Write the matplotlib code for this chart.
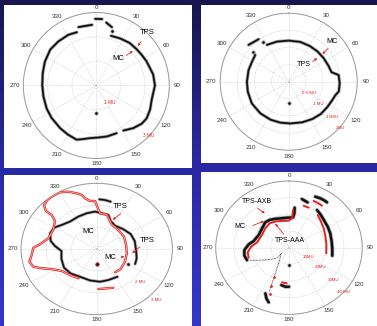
import numpy as np
import matplotlib
matplotlib.use("Agg")
import matplotlib.pyplot as plt
from matplotlib.patches import Rectangle, FancyArrowPatch

nan = float("nan")
W, H = 377, 326

theta_ticks = list(range(0, 360, 30))
theta_labels = [str(a) for a in theta_ticks]

# ---------------- Panel 1 (rmax 3 MU) ----------------
p1_rings = [1, 2, 3]
p1_mc_theta = [-1, 5, nan, 9, 15, nan, 16.5, 27, 38, 48, 56, 64, 72, 79, 90, 104, 114, 123, 130, 139, 149, nan,
               157, 168, 178, 187, 194, 200, 210, 220, 234, 245, 258, 270, 283, 295, 308, 319, 331, 340, nan, 343, 356]
p1_mc_r = [2.74, 2.74, nan, 2.62, 2.48, nan, 2.13, 2.17, 2.22, 2.23, 2.25, 2.29, 2.32, 2.38, 2.41, 2.35, 2.42, 2.47, 2.44, 2.32, 2.16, nan,
           2.13, 2.14, 2.14, 2.18, 2.27, 2.37, 2.33, 2.30, 2.27, 2.25, 2.22, 2.22, 2.26, 2.33, 2.40, 2.39, 2.38, 2.33, nan, 2.51, 2.50]
p1_dot_theta = [16, 180]
p1_dot_r = [2.35, 1.11]

# ---------------- Panel 2 (rmax 2 MU) ----------------
p2_rings = [0.5, 1, 1.5, 2]
p2_mc_theta = [-30.6, -16.3, 0, 16.3, 30.6, 43.5, 55.7, 68, 77.5, 82.4, 92, 101, 106, 113, 123, 135, 147.5, 161.6,
               177.7, 191.5, 205.6, 221.8, 239.4, 256.2, 270, 286, 298.6, 308.7, nan, 312.5, 324.7]
p2_mc_r = [1.25, 1.22, 1.20, 1.21, 1.21, 1.22, 1.23, 1.25, 1.28, 1.47, 1.49, 1.49, 1.42, 1.38, 1.35, 1.33, 1.29, 1.25,
           1.22, 1.22, 1.23, 1.24, 1.25, 1.23, 1.22, 1.22, 1.22, 1.25, nan, 1.59, 1.52]
p2_dot_theta = [326.7, 309.8, 180]
p2_dot_r = [1.37, 1.37, 0.63]

# ---------------- Panel 3 (rmax 3 MU) ----------------
p3_rings = [1, 2, 3]
p3_tps_theta = [-151.6, -138.4, -125.9, -117.1, -112, -107.8, -102.2, -96, -88.6, -84.6, -75.8, -63.2, -52.3, -48.9,
                -49.2, -46.1, -40.4, -34.9, -29.3, -23.2, -17.3, -13.5, -11.3, -6.9, -1.7, 4.6, 14.0, 27.8, 44.7, 62.5,
                81.1, 99.5, 117.3, 133.9, 145.7, nan, 159.5, 167.6, 177.9]
p3_tps_r = [1.52, 1.59, 1.71, 2.01, 2.35, 2.64, 2.73, 2.59, 2.51, 2.26, 1.98, 1.93, 2.09, 2.37,
            2.66, 2.90, 2.98, 2.98, 2.97, 2.85, 2.66, 2.54, 2.36, 2.21, 2.19, 1.63, 1.63, 1.27, 1.22, 1.22,
            1.18, 1.21, 1.26, 1.32, 1.29, nan, 1.89, 1.84, 1.83]
p3_mc_theta = [2.7, 8.4, 14.4, nan, -213, -198, -185, -169.5, -152.4, -137.2, -123.3, -108, -93.7, -85.3, -78.7,
               -68.8, -60, -51.7, -40.2, -26.2, -13.7, -2.2, 16.6, 23.5, 34.3, 49.6, 63.1, 76.3, 91.7, 105, 114.2]
p3_mc_r = [2.27, 2.26, 2.23, nan, 1.51, 1.49, 1.50, 1.46, 1.43, 1.52, 1.55, 1.47, 1.40, 1.66, 1.86,
           1.98, 1.95, 1.77, 1.64, 1.65, 1.68, 1.71, 1.62, 1.39, 1.29, 1.39, 1.51, 1.55, 1.56, 1.64, 1.67]
p3_dot_theta = [118.6, 180]
p3_dot_r = [1.43, 0.70]

# ---------------- Panel 4 (rmax 40 MU) ----------------
p4_rings = [10, 20, 30, 40]
p4_mc_theta = [25.1, 30, 34.2, 37.3, nan, 34.1, 41.7, 50.3, 59.1, 69.1, 80.3, 91, 101.5, nan, 13.6, 20.5, nan,
               7.3, 8.1, 6.9, -3.4, -15, -24.9, -32.5, -40.4, -51.8, -65.4, -78.3, -84.8, -93.3, -101.1, -107.9, nan,
               205.2, 202.1, 198.7, nan, 190.6, 184.9, 180]
p4_mc_r = [33.8, 34.2, 34.3, 34.2, nan, 27.3, 26.2, 25.1, 24.6, 24.1, 23.6, 23.6, 24.1, nan, 30.0, 29.0, nan,
           24.2, 20.8, 18.3, 18.0, 18.2, 19.0, 19.7, 20.0, 18.7, 18.2, 19.7, 22.1, 24.4, 24.8, 24.1, nan,
           30.3, 32.8, 34.6, nan, 22.8, 23.5, 23.4]
p4_trace_theta = [-107.9, -111.5, -116.7, -124.5, -133.4, -129, -149, -154.2, -156.6, -157.9]
p4_trace_r = [24.1, 20.7, 16.5, 12.4, 9.0, 5.4, 11, 17.1, 23.3, 28.5]
p4_tps_theta = [25.6, 31.3, 35.5, nan, 38.6, 48.2, 58.5, 70, 84.4, 99.5, nan, 17.6, 24.1, nan,
                5.5, 5.7, -0.7, -16.4, -27.2, -35.9, -48.1, -62.7, -79.6, -88.3, -97.1, -105.3, nan, 190.4, 183.4]
p4_tps_r = [31.1, 31.1, 31.0, nan, 25.1, 23.4, 22.2, 21.1, 20.5, 20.6, nan, 26.4, 26.3, nan,
            22.7, 17.7, 16.2, 16.7, 17.5, 18.0, 17.4, 16.6, 17.7, 20.7, 22.7, 22.8, nan, 21.1, 21.4]
p4_tps_dot_theta = [205.7, 203.3, 200.7]
p4_tps_dot_r = [19.3, 24.8, 29.9]
p4_dot_theta = [180]
p4_dot_r = [10.4]

# ---------------- figure ----------------
plt.rcParams['font.family'] = ['Liberation Sans', 'DejaVu Sans']
fig = plt.figure(figsize=(W / 100, H / 100), dpi=100)

bg = fig.add_axes([0, 0, 1, 1], zorder=-10)
stops_y = np.array([0.0, 0.5, 1.0])
stops_c = np.array([[0.09, 0.09, 0.30], [0.16, 0.16, 0.64], [0.21, 0.21, 0.80]])
t = np.linspace(0, 1, 256)
grad = np.stack([np.interp(t, stops_y, stops_c[:, k]) for k in range(3)], axis=1)[:, None, :]
bg.imshow(grad, aspect='auto', extent=[0, 1, 0, 1], origin='upper')
bg.set_axis_off()


def fx(x):
    return x / W


def fy(y):
    return 1 - y / H


def panel(x0, y0, x1, y1):
    fig.patches.append(Rectangle((fx(x0), fy(y1)), (x1 - x0) / W, (y1 - y0) / H,
                                 transform=fig.transFigure, facecolor='white',
                                 edgecolor='none', zorder=-5))


panel(4, 5, 192, 168)
panel(201, 5, 377, 163)
panel(4, 175, 192, 326)
panel(201, 172, 377, 326)


def make_polar(cx, cy, rx, ry, rmax, rings, base_off=5.0):
    ax = fig.add_axes([fx(cx - rx), fy(cy + ry), 2 * rx / W, 2 * ry / H], projection='polar')
    ax.set_aspect('auto')
    ax.set_facecolor('none')
    ax.set_theta_zero_location('N')
    ax.set_theta_direction(-1)
    ax.set_ylim(0, rmax)
    ax.set_thetagrids(theta_ticks, [''] * len(theta_ticks))
    ax.set_rgrids(rings, labels=[''] * len(rings))
    ax.grid(True, color='#c8c8c8', lw=0.4, ls=(0, (2.5, 2)))
    ax.spines['polar'].set_color('#9a9a9a')
    ax.spines['polar'].set_linewidth(0.7)
    for a, s in zip(theta_ticks, theta_labels):
        th = np.deg2rad(a)
        reff = np.hypot(rx * np.sin(th), ry * np.cos(th))
        off = base_off + 3.0 * abs(np.sin(th))
        ax.text(th, rmax * (1 + off / reff), s, fontsize=4.5, color='#333333',
                ha='center', va='center', clip_on=False)
    return ax


def black_curve(ax, th, r, lw=1.3):
    tt = np.deg2rad(np.array(th, dtype=float))
    rr = np.array(r, dtype=float)
    ax.plot(tt, rr, color='#a8a8a8', lw=lw + 1.1, solid_capstyle='round', solid_joinstyle='round', zorder=3)
    ax.plot(tt, rr, color='#111111', lw=lw, solid_capstyle='round', solid_joinstyle='round', zorder=4)


def red_curve(ax, th, r, lw=1.6, hollow=True):
    tt = np.deg2rad(np.array(th, dtype=float))
    rr = np.array(r, dtype=float)
    ax.plot(tt, rr, color='#e8231e', lw=lw, solid_capstyle='round', solid_joinstyle='round', zorder=5)
    if hollow:
        ax.plot(tt, rr, color='#f6b4b0', lw=lw * 0.35, solid_capstyle='round', zorder=6)


def dots(ax, th, r, fc='#111111', ec='#8a8a8a', ms=2.3):
    ax.plot(np.deg2rad(np.array(th, dtype=float)), r, ls='none', marker='o', ms=ms,
            mfc=fc, mec=ec, mew=0.5, zorder=6)


def label(x, y, s, size=5.5, color='black', ha='center'):
    fig.text(fx(x), fy(y), s, fontsize=size, color=color, ha=ha, va='center', zorder=20)


def arrow(x0, y0, x1, y1):
    fig.patches.append(FancyArrowPatch((fx(x0), fy(y0)), (fx(x1), fy(y1)), transform=fig.transFigure,
                                       arrowstyle='-|>', mutation_scale=3, color='#e8231e', lw=0.6,
                                       zorder=20))


# Panel 1
ax1 = make_polar(96.3, 85.5, 73, 73, 3, p1_rings, base_off=5.0)
black_curve(ax1, p1_mc_theta, p1_mc_r)
dots(ax1, p1_dot_theta, p1_dot_r)
label(110, 102, "1 MU", size=3.4, color='#e8231e')
label(149, 135, "3 MU", size=3.4, color='#e8231e')
label(147, 33, "TPS")
label(118, 58, "MC")
arrow(143, 39.5, 136, 48)
arrow(124, 57, 135, 49.5)

# Panel 2
ax2 = make_polar(288.7, 81.7, 68.5, 68.5, 2, p2_rings, base_off=6.0)
black_curve(ax2, p2_mc_theta, p2_mc_r)
dots(ax2, p2_dot_theta, p2_dot_r)
label(308.7, 92.7, "0.5 MU", size=3.2, color='#e8231e')
label(318.7, 104.3, "1 MU", size=3.2, color='#e8231e')
label(332, 116.7, "1.5MU", size=3.2, color='#e8231e')
label(340, 127.7, "2MU", size=3.2, color='#e8231e')
label(332, 41.5, "MC", size=5.2)
label(303.7, 65, "TPS", size=5.2)
arrow(330, 46.5, 320.5, 56)
arrow(310.5, 63, 319.5, 56.5)

# Panel 3
ax3 = make_polar(96.7, 249, 75.7, 65.7, 3, p3_rings, base_off=5.0)
red_curve(ax3, p3_tps_theta, p3_tps_r, lw=1.7, hollow=True)
black_curve(ax3, p3_mc_theta, p3_mc_r, lw=1.2)
dots(ax3, p3_dot_theta[:1], p3_dot_r[:1])
dots(ax3, p3_dot_theta[1:], p3_dot_r[1:], fc='#222222', ec='#e8231e', ms=2.6)
label(140, 282, "2 MU", size=3.2, color='#e8231e')
label(156.7, 300, "3 MU", size=3.2, color='#e8231e')
label(120, 206.5, "TPS")
label(88.3, 231.5, "MC")
label(147, 240, "TPS")
label(110, 257.5, "MC")
arrow(123, 212, 110.5, 221.5)
arrow(142, 245, 130, 255)
arrow(118.5, 257.5, 127, 256)

# Panel 4
ax4 = make_polar(289, 247.7, 73.3, 66.7, 40, p4_rings, base_off=5.0)
ax4.plot(np.deg2rad(np.array(p4_trace_theta)), p4_trace_r, color='#333333', lw=0.6, ls=(0, (1, 0.8)), zorder=3)
black_curve(ax4, p4_mc_theta, p4_mc_r, lw=1.8)
red_curve(ax4, p4_tps_theta, p4_tps_r, lw=1.4, hollow=False)
dots(ax4, p4_tps_dot_theta, p4_tps_dot_r, fc='#e8231e', ec='#e8231e', ms=1.4)
dots(ax4, p4_dot_theta, p4_dot_r)
label(308.7, 257.3, "10MU", size=3.2, color='#e8231e')
label(320.3, 266.7, "20MU", size=3.2, color='#e8231e')
label(333.7, 280, "30MU", size=3.2, color='#e8231e')
label(343.7, 291.7, "40 MU", size=3.2, color='#e8231e')
label(257, 201.7, "TPS-AXB", size=5)
label(240.3, 226.7, "MC", size=5)
label(290.3, 241, "TPS-AAA", size=5)
arrow(255.5, 206.5, 267, 215)
arrow(250.5, 226.5, 266.5, 220)
arrow(285.5, 236.5, 273.5, 221.5)

fig.savefig("out.png", dpi=100)
